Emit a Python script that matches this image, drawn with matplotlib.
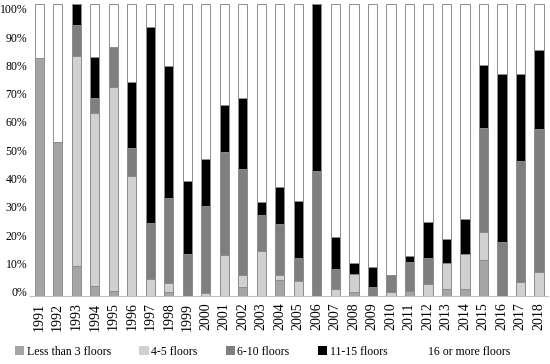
import numpy as np
import matplotlib
matplotlib.use("Agg")
import matplotlib.pyplot as plt
from matplotlib.patches import Patch

years = list(range(1991, 2019))

# shares (%) per year
less_than_3 = [81.5, 52.6, 10.3, 3.3, 1.6, 0.0, 0.0, 1.1, 0.0, 0.0,
               0.0, 3.1, 0.0, 5.4, 0.0, 0.0, 0.0, 1.1, 0.0, 0.0,
               1.6, 0.0, 2.2, 2.3, 12.2, 0.0, 0.0, 0.0]
floors_4_5 = [0.0, 0.0, 72.0, 59.4, 70.0, 41.1, 5.7, 3.3, 0.0, 0.8,
              13.9, 4.1, 15.4, 1.5, 5.1, 0.0, 2.4, 6.3, 0.0, 1.3,
              0.0, 4.0, 8.9, 12.0, 9.6, 0.0, 4.8, 8.2]
floors_6_10 = [0.0, 0.0, 10.5, 4.9, 13.7, 9.6, 19.3, 29.1, 14.3, 30.0,
               35.2, 36.1, 12.2, 17.6, 7.7, 42.7, 6.6, 0.0, 2.9, 5.7,
               10.0, 8.8, 0.0, 0.0, 35.7, 18.3, 41.5, 49.1]
floors_11_15 = [0.0, 0.0, 7.2, 14.3, 0.0, 22.6, 67.2, 45.1, 25.1, 16.0,
                16.1, 24.5, 4.6, 12.9, 19.7, 57.3, 11.2, 3.7, 6.9, 0.0,
                2.1, 12.3, 8.2, 11.9, 21.5, 57.7, 29.7, 26.9]
floors_16_plus = [18.5, 47.4, 0.0, 18.1, 14.7, 26.7, 7.8, 21.4, 60.6, 53.2,
                  34.8, 32.2, 67.8, 62.6, 67.5, 0.0, 79.8, 88.9, 90.2, 93.0,
                  86.3, 74.9, 80.7, 73.8, 21.0, 24.0, 24.0, 15.8]

series = [
    ("Less than 3 floors", less_than_3, "#a5a5a5"),
    ("4-5 floors", floors_4_5, "#d0d0d0"),
    ("6-10 floors", floors_6_10, "#7f7f7f"),
    ("11-15 floors", floors_11_15, "#000000"),
    ("16 or more floors", floors_16_plus, "#ffffff"),
]

plt.rcParams["font.family"] = ["Liberation Serif", "DejaVu Serif"]

fig = plt.figure(figsize=(5.5, 3.64), dpi=100)
ax = fig.add_axes([0.0545, 0.188, 0.942, 0.801])

x = np.arange(len(years))
totals = np.sum([s[1] for s in series], axis=0)
bottom = np.zeros(len(years))
for name, vals, color in series:
    share = np.array(vals) / totals
    ax.bar(x, share, 0.51, bottom=bottom, color=color, edgecolor="#8c8c8c",
           linewidth=0.7)
    bottom += share

ax.set_xlim(-0.5, len(years) - 0.5)
ax.set_ylim(0, 1)
# percent labels sit slightly inside the bar span, as in the original
pct = np.arange(0, 101, 10)
ax.set_yticks(0.0137 + 0.97 * pct / 100)
ax.set_yticklabels([f"{p}%" for p in pct])
ax.set_xticks(x)
ax.set_xticklabels([str(y) for y in years], rotation=90)
ax.tick_params(axis="y", length=0, pad=2, labelsize=8.5)
ax.tick_params(axis="x", length=0, pad=5, labelsize=10)

for side in ["top", "right", "left"]:
    ax.spines[side].set_visible(False)
ax.spines["bottom"].set_color("#bfbfbf")
ax.spines["bottom"].set_linewidth(0.8)

handles = [Patch(facecolor=c, edgecolor="none", label=n) for n, _, c in series]
fig.legend(handles=handles, loc="lower left", bbox_to_anchor=(0.008, -0.012),
           ncol=5, frameon=False, fontsize=8.5, handlelength=0.8,
           handleheight=0.8, handletextpad=0.2, columnspacing=2.4)

fig.savefig("out.png", dpi=100)
plt.close(fig)
